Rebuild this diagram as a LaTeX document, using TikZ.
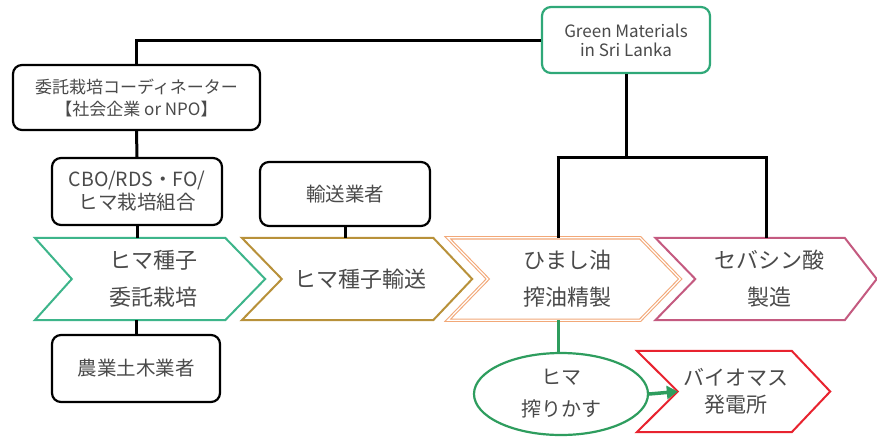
\documentclass[tikz,border=0pt]{standalone}
\usepackage{fontspec}
\setmainfont{Noto Sans CJK JP}
\usetikzlibrary{shapes.geometric,arrows.meta}
\definecolor{txt}{HTML}{4A4A4A}
\definecolor{gmgreen}{HTML}{2FA878}
\definecolor{chgreen}{HTML}{3DB58A}
\definecolor{chbrown}{HTML}{B8913A}
\definecolor{chorange}{HTML}{F2A878}
\definecolor{chpink}{HTML}{C45A80}
\definecolor{elgreen}{HTML}{2E9D5E}
\definecolor{chred}{HTML}{E8232F}
\tikzset{
  box/.style={draw=black, line width=2.2pt, rounded corners=9pt, fill=white, inner sep=0pt, align=center, text=txt},
  conn/.style={draw=black, line width=3pt},
  chevbox/.style={draw=none, inner sep=0pt, align=center, text=txt, font=\fontsize{22}{37}\selectfont},
  chevline/.style={line width=2pt, line join=miter},
}
\begin{document}
\begin{tikzpicture}[x=1pt,y=-1pt]
\useasboundingbox[fill=white] (0,0) rectangle (877,445);

% boxes
\node[box, draw=gmgreen, minimum width=168pt, minimum height=66pt, font=\fontsize{17}{19}\selectfont] (gm) at (626,40) {Green Materials\\in Sri Lanka};
\node[box, minimum width=247pt, minimum height=65pt, font=\fontsize{17}{22}\selectfont] (coord) at (136.5,97.5) {委託栽培コーディネーター\\【社会企業 or NPO】};
\node[box, minimum width=170pt, minimum height=67pt, font=\fontsize{19.5}{23}\selectfont] (cbo) at (137,191.5) {CBO/RDS・FO/\\ヒマ栽培組合};
\node[box, minimum width=170pt, minimum height=64pt, font=\fontsize{19.5}{23}\selectfont] (trans) at (345,194) {輸送業者};
\node[box, minimum width=168pt, minimum height=67pt, font=\fontsize{19.5}{23}\selectfont] (noho) at (136,368.5) {農業土木業者};

% chevrons (nodes span left edge to tip)
\node[chevbox, minimum width=230pt, minimum height=82pt] (c1) at (153,279) {ヒマ種子\\委託栽培};
\node[chevbox, minimum width=230pt, minimum height=82pt] (c2) at (360,279) {ヒマ種子輸送};
\node[chevbox, minimum width=232pt, minimum height=82pt] (c3) at (567,279) {ひまし油\\搾油精製};
\node[chevbox, minimum width=221pt, minimum height=82pt] (c4) at (769,279) {セバシン酸\\製造};

\draw[chevline, draw=chgreen] ([xshift=-3pt]c1.north west) -- ([xshift=-43pt]c1.north east) -- ([xshift=-3pt]c1.east) -- ([xshift=-43pt]c1.south east) -- ([xshift=-3pt]c1.south west) -- ([xshift=34pt]c1.west) -- cycle;
\draw[chevline, draw=chbrown] ([xshift=-3pt]c2.north west) -- ([xshift=-42pt]c2.north east) -- ([xshift=-3pt]c2.east) -- ([xshift=-42pt]c2.south east) -- ([xshift=-3pt]c2.south west) -- ([xshift=37pt]c2.west) -- cycle;
\draw[chevline, draw=chorange, line width=1.1pt, double=white, double distance=1.2pt] ([xshift=-3pt]c3.north west) -- ([xshift=-43pt]c3.north east) -- ([xshift=-3pt]c3.east) -- ([xshift=-43pt]c3.south east) -- ([xshift=-3pt]c3.south west) -- ([xshift=37pt]c3.west) -- cycle;
\draw[chevline, draw=chpink] ([xshift=-3pt]c4.north west) -- ([xshift=-35pt]c4.north east) -- ([xshift=-3pt]c4.east) -- ([xshift=-35pt]c4.south east) -- ([xshift=-3pt]c4.south west) -- ([xshift=37pt]c4.west) -- cycle;

% red chevron
\node[chevbox, minimum width=193pt, minimum height=81pt, font=\fontsize{21}{27}\selectfont] (bio) at (736,391.5) {バイオマス\\発電所};
\draw[chevline, draw=chred] ([xshift=-2.5pt]bio.north west) -- ([xshift=-41pt]bio.north east) -- ([xshift=-2.5pt]bio.east) -- ([xshift=-41pt]bio.south east) -- ([xshift=-2.5pt]bio.south west) -- ([xshift=38.5pt]bio.west) -- cycle;
\coordinate (notch) at ([xshift=38.5pt]bio.west);

% ellipse
\node[ellipse, draw=elgreen, line width=2.2pt, fill=white, minimum width=174pt, minimum height=82pt, inner sep=0pt, align=center, text=txt, font=\fontsize{20}{32}\selectfont] (kasu) at (561,394) {ヒマ\\搾りかす};

% connectors
\draw[conn] (coord.north) |- (gm.west);
\draw[conn] (coord.south) -- (cbo.north);
\draw[conn] (cbo.south) -- (cbo.south |- c1.north);
\draw[conn] (noho.north) -- (noho.north |- c1.south);
\draw[conn] (trans.south) -- (trans.south |- c2.north);
\coordinate (ja) at (558,157);
\coordinate (jb) at (766,157);
\draw[conn] (gm.south) -- (gm.south |- ja);
\draw[conn] ([xshift=-1.5pt]ja) -- ([xshift=1.5pt]jb);
\draw[conn] (ja) -- (ja |- c3.north);
\draw[conn] (jb) -- (jb |- c4.north);
\draw[line width=3pt, draw=elgreen] (kasu.north -| ja) -- (ja |- c3.south);
\draw[line width=3.5pt, draw=elgreen, -{Triangle[length=11pt,width=13pt]}] (kasu.east) -- (notch);
\end{tikzpicture}
\end{document}
